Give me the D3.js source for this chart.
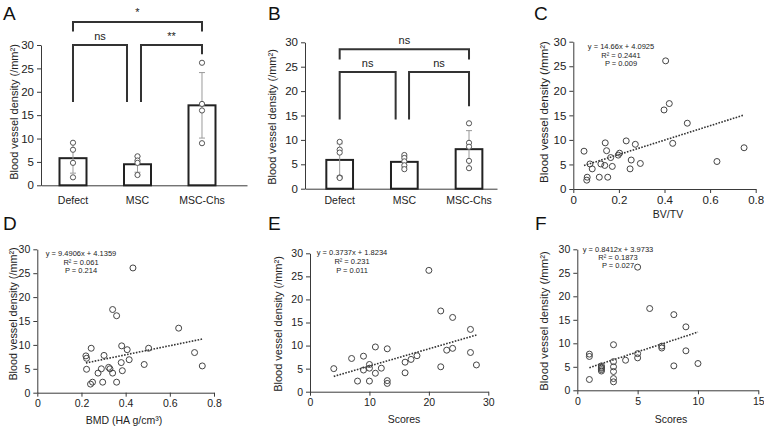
<!DOCTYPE html>
<html><head><meta charset="utf-8">
<script src="https://cdn.jsdelivr.net/npm/d3@7"></script>
<style>
body{margin:0;background:#fff;}
svg{display:block;font-family:"Liberation Sans",Arial,sans-serif;}
</style></head><body>
<svg id="chart" width="764" height="428"></svg>
<script>
// ---------------- DATA ----------------
const barCategories = ["Defect", "MSC", "MSC-Chs"];
const yTickValues = [0, 5, 10, 15, 20, 25, 30];
const yTitle = "Blood vessel density (/mm²)";

// Panel A
const meanA = [5.8, 4.5, 17.1];
const sdA = [3.2, 1.7, 7.0];
const pointsA = [[9.1, 7.6, 4.8, 1.7], [6.2, 5.3, 4.8, 2.2], [26.2, 17.4, 16.0, 9.0]];
const bracketLabelsA = ["*", "ns", "**"];
// Panel B
const meanB = [5.9, 5.5, 8.1];
const sdB = [3.3, 1.1, 3.8];
const pointsB = [[9.6, 8.0, 7.4, 2.3, 2.2], [6.9, 6.3, 5.6, 4.8, 4.0], [13.4, 9.4, 8.6, 5.7, 4.2]];
const bracketLabelsB = ["ns", "ns", "ns"];

// Panel C : BV/TV
const bvtvX = [0.047, 0.073, 0.083, 0.061, 0.059, 0.114, 0.121, 0.138, 0.140, 0.146, 0.151, 0.164, 0.171, 0.197, 0.203, 0.232, 0.249, 0.254, 0.272, 0.294, 0.398, 0.405, 0.421, 0.436, 0.500, 0.630, 0.749];
const bvtvY = [7.7, 5.1, 4.1, 2.4, 1.8, 2.4, 5.1, 4.8, 9.4, 7.8, 2.4, 6.4, 4.6, 6.9, 7.3, 9.8, 4.1, 5.9, 9.1, 5.2, 16.1, 26.1, 17.4, 9.3, 13.4, 5.6, 8.4];
const fitC = {slope: 14.66, intercept: 4.0925};
const eqC = ["y = 14.66x + 4.0925", "R² = 0.2441", "P = 0.009"];
const xTicksC = [0, 0.2, 0.4, 0.6, 0.8];

// Panel D : BMD
const bmdX = [0.220, 0.223, 0.223, 0.244, 0.241, 0.250, 0.275, 0.290, 0.296, 0.302, 0.323, 0.329, 0.341, 0.341, 0.359, 0.359, 0.382, 0.380, 0.385, 0.407, 0.416, 0.433, 0.484, 0.504, 0.640, 0.712, 0.747];
const bmdY = [7.7, 7.2, 4.9, 9.3, 1.8, 2.2, 4.1, 5.0, 2.2, 7.8, 5.3, 5.0, 4.1, 17.4, 16.1, 2.2, 9.8, 6.3, 4.6, 9.0, 6.9, 26.1, 5.9, 9.3, 13.5, 8.4, 5.6];
const fitD = {slope: 9.4906, intercept: 4.1359};
const eqD = ["y = 9.4906x + 4.1359", "R² = 0.061", "P = 0.214"];
const xTicksD = [0, 0.2, 0.4, 0.6, 0.8];

// Panel E : Scores (0-30)
const scoreEX = [4, 7, 8, 9, 9, 10, 10, 10, 11, 11, 12, 13, 13, 13, 16, 16, 17, 18, 20, 22, 22, 23, 24, 24, 27, 27, 28];
const scoreEY = [5.0, 7.2, 2.3, 7.7, 4.7, 5.9, 5.1, 2.3, 9.7, 4.0, 5.1, 9.3, 2.4, 1.8, 6.4, 4.1, 7.0, 7.8, 26.3, 17.5, 5.4, 9.0, 16.1, 9.4, 13.5, 8.5, 5.8];
const fitE = {slope: 0.3737, intercept: 1.8234};
const eqE = ["y = 0.3737x + 1.8234", "R² = 0.231", "P = 0.011"];
const xTicksE = [0, 10, 20, 30];

// Panel F : Scores (0-15)
const scoreFX = [1, 1, 1, 2, 2, 2, 2, 2, 3, 3, 3, 3, 3, 3, 4, 5, 5, 5, 6, 7, 7, 8, 8, 9, 9, 10];
const scoreFY = [7.7, 7.2, 2.3, 5.2, 4.9, 4.7, 4.4, 4.1, 9.7, 6.1, 5.0, 4.0, 2.5, 1.8, 6.4, 7.8, 6.9, 26.2, 17.4, 9.4, 9.0, 16.1, 5.2, 13.5, 8.4, 5.7];
const fitF = {slope: 0.8412, intercept: 3.9733};
const eqF = ["y = 0.8412x + 3.9733", "R² = 0.1873", "P = 0.027"];
const xTicksF = [0, 5, 10, 15];

// ---------------- DRAWING ----------------
const svg = d3.select("#chart");
const AX = "#3a3a3a", TX = "#222";

function styleAxis(g, fs) {
  g.selectAll("path.domain").attr("stroke", AX).attr("stroke-width", 1);
  g.selectAll(".tick line").attr("stroke", AX);
  g.selectAll(".tick text").attr("fill", TX).style("font-size", fs + "px").style("font-family", "Liberation Sans, Arial, sans-serif");
}

function yTitleText(cx, cy, fs) {
  svg.append("text").attr("transform", `translate(${cx},${cy}) rotate(-90)`)
    .attr("text-anchor", "middle").attr("dominant-baseline", "central")
    .attr("fill", TX).style("font-size", fs + "px").text(yTitle);
}
function letter(t, x, y) {
  svg.append("text").attr("x", x).attr("y", y).attr("fill", "#111").style("font-size", "19px").text(t);
}

function drawBar(L, means, sds, pts, labels) {
  const g = svg.append("g");
  const y = d3.scaleLinear().domain([0, 30]).range([L.y0, L.y30]);
  const x = d3.scaleBand().domain(barCategories).range([L.xa, L.xb])
    .paddingInner(L.pi).paddingOuter(L.po).align(L.al);
  const cx = i => x(barCategories[i]) + x.bandwidth() / 2;

  const ya = g.append("g").attr("transform", `translate(${L.xa},0)`)
    .call(d3.axisLeft(y).tickValues(yTickValues).tickSize(4).tickSizeOuter(0).tickPadding(3));
  styleAxis(ya, L.fs);
  const xa = g.append("g").attr("transform", `translate(0,${L.y0})`)
    .call(d3.axisBottom(x).tickSize(0).tickPadding(L.xpad));
  styleAxis(xa, L.xfs);

  g.selectAll("rect.bar").data(means).join("rect").attr("class", "bar")
    .attr("x", (d, i) => x(barCategories[i])).attr("width", x.bandwidth())
    .attr("y", d => y(d)).attr("height", d => y(0) - y(d))
    .attr("fill", "#fff").attr("stroke", "#222").attr("stroke-width", 2);

  means.forEach((m, i) => {
    const c = cx(i);
    g.append("line").attr("x1", c).attr("x2", c).attr("y1", y(m - sds[i])).attr("y2", y(m + sds[i]))
      .attr("stroke", "#9a9a9a").attr("stroke-width", 1);
    [m - sds[i], m + sds[i]].forEach(v => g.append("line").attr("x1", c - 3).attr("x2", c + 3)
      .attr("y1", y(v)).attr("y2", y(v)).attr("stroke", "#9a9a9a").attr("stroke-width", 1));
    g.selectAll(null).data(pts[i]).join("circle").attr("cx", c).attr("cy", d => y(d)).attr("r", 2.6)
      .attr("fill", "#fff").attr("stroke", "#555").attr("stroke-width", 1);
  });

  // significance brackets (geometry in data units of y)
  L.br.forEach((b, k) => {
    const xa1 = cx(b.a) + b.ao, xb1 = cx(b.b) + b.bo;
    g.append("path").attr("d", `M${xa1},${y(b.la)}V${y(b.top)}H${xb1}V${y(b.lb)}`)
      .attr("fill", "none").attr("stroke", "#333").attr("stroke-width", 2);
    g.append("text").attr("x", (xa1 + xb1) / 2).attr("y", y(b.top) - b.ty).attr("text-anchor", "middle")
      .attr("fill", TX).style("font-size", "11px").text(labels[k]);
  });
}

function drawScatter(L, xs, ys, xTicks, fit, eq, xTitle) {
  const g = svg.append("g");
  const x = d3.scaleLinear().domain([xTicks[0], xTicks[xTicks.length - 1]]).range([L.x0, L.x1]);
  const y = d3.scaleLinear().domain([0, 30]).range([L.y0, L.y30]);
  const ya = g.append("g").attr("transform", `translate(${L.x0},0)`)
    .call(d3.axisLeft(y).tickValues(yTickValues).tickSize(4).tickSizeOuter(0).tickPadding(3));
  styleAxis(ya, L.fs);
  const xa = g.append("g").attr("transform", `translate(0,${L.y0})`)
    .call(d3.axisBottom(x).tickValues(xTicks).tickSize(4).tickSizeOuter(0).tickPadding(3).tickFormat(d3.format("~g")));
  styleAxis(xa, L.fs);

  const x1 = d3.min(xs), x2 = d3.max(xs);
  g.append("line").attr("x1", x(x1)).attr("x2", x(x2))
    .attr("y1", y(fit.slope * x1 + fit.intercept)).attr("y2", y(fit.slope * x2 + fit.intercept))
    .attr("stroke", "#333").attr("stroke-width", 1.6).attr("stroke-dasharray", "1.6,1.4");

  g.selectAll("circle").data(xs).join("circle")
    .attr("cx", d => x(d)).attr("cy", (d, i) => y(ys[i])).attr("r", 3)
    .attr("fill", "none").attr("stroke", "#444").attr("stroke-width", 1);

  eq.forEach((t, i) => {
    g.append("text").attr("x", L.ex).attr("y", L.ey[i]).attr("text-anchor", "middle")
      .attr("fill", TX).style("font-size", L.efs + "px").text(t);
  });
  g.append("text").attr("x", L.tx).attr("y", L.ty).attr("text-anchor", "middle")
    .attr("fill", TX).style("font-size", L.tfs + "px").text(xTitle);
}

// Panel A
drawBar({xa: 41, xb: 247, pi: 0.5814, po: 0.3876, al: 0.37, y0: 185.3, y30: 45, fs: 11.5, xfs: 10.5, xpad: 11,
  br: [{a: 0, ao: 0, b: 2, bo: 0, top: 34.9, la: 32.9, lb: 32.9, ty: 6},
       {a: 0, ao: 0, b: 1, bo: -10.5, top: 30, la: 17.8, lb: 17.8, ty: 5},
       {a: 1, ao: 3.5, b: 2, bo: 0, top: 30, la: 17.8, lb: 28, ty: 5}]},
  meanA, sdA, pointsA, bracketLabelsA);
yTitleText(14, 112, 11);
letter("A", 3, 20);

// Panel B
drawBar({xa: 305, xb: 497, pi: 0.587, po: 0.278, al: 0.593, y0: 188.7, y30: 42.3, fs: 11.5, xfs: 10.5, xpad: 8,
  br: [{a: 0, ao: 0, b: 2, bo: 0, top: 28.6, la: 26.5, lb: 26.5, ty: 5},
       {a: 0, ao: 0, b: 1, bo: -8.7, top: 23.9, la: 14.2, lb: 14.2, ty: 5},
       {a: 1, ao: 4.7, b: 2, bo: 0, top: 23.9, la: 14.2, lb: 16.9, ty: 5}]},
  meanB, sdB, pointsB, bracketLabelsB);
yTitleText(272, 117, 11);
letter("B", 268, 20);

// Panel C
drawScatter({x0: 573.3, x1: 755.7, y0: 189, y30: 41.7, fs: 11.5, ex: 621, ey: [49, 57.5, 66], efs: 7.5,
  tx: 668, ty: 218, tfs: 10.5}, bvtvX, bvtvY, xTicksC, fitC, eqC, "BV/TV");
yTitleText(544, 112, 11.5);
letter("C", 534, 20);

// Panel D
drawScatter({x0: 37.3, x1: 214, y0: 392.7, y30: 249.3, fs: 10.5, ex: 81, ey: [256, 264.5, 273.3], efs: 7.5,
  tx: 124, ty: 424, tfs: 10.5}, bmdX, bmdY, xTicksD, fitD, eqD, "BMD (HA g/cm³)");
yTitleText(13, 314, 10.8);
letter("D", 3, 230);

// Panel E
drawScatter({x0: 310, x1: 488.3, y0: 391.7, y30: 253.3, fs: 10.5, ex: 352, ey: [255, 264, 272.7], efs: 7.5,
  tx: 404, ty: 423, tfs: 10.5}, scoreEX, scoreEY, xTicksE, fitE, eqE, "Scores");
yTitleText(278, 324, 11);
letter("E", 268, 230);

// Panel F
drawScatter({x0: 577.3, x1: 758.3, y0: 390.3, y30: 249.3, fs: 10.5, ex: 618, ey: [251.5, 259.5, 268], efs: 7.5,
  tx: 671, ty: 423, tfs: 10.5}, scoreFX, scoreFY, xTicksF, fitF, eqF, "Scores");
yTitleText(544, 321, 11.3);
letter("F", 535, 230);
</script>
</body></html>
